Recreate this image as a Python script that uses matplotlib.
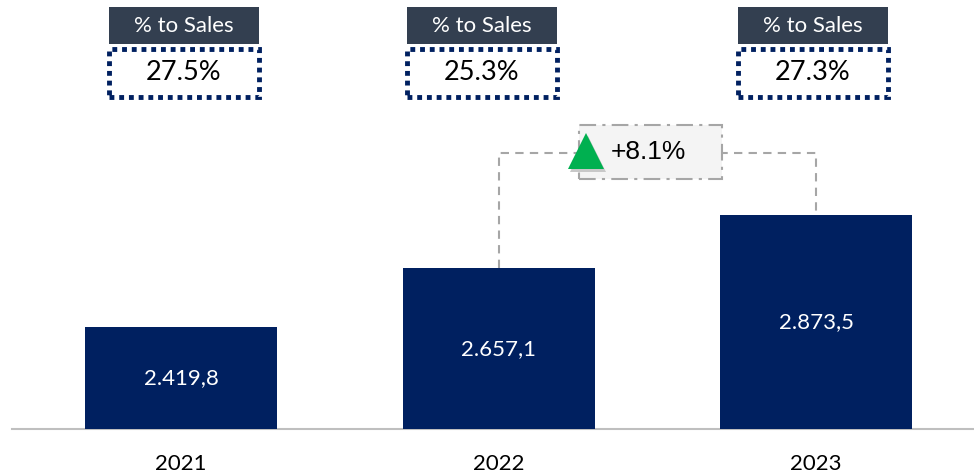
# -*- coding: UTF-8 -*-
# Gross profit bars 2021-2023 with "% to Sales" boxes and growth callout
import numpy as np
import matplotlib.pyplot as plt
from matplotlib.patches import Rectangle
import matplotlib.transforms as mtransforms

# data
years = ['2021', '2022', '2023']
values = [2419.8, 2657.1, 2873.5]
value_labels = ['2.419,8', '2.657,1', '2.873,5']
pct_to_sales = ['27.5%', '25.3%', '27.3%']
growth_label = '+8.1%'

# colours
NAVY = '#002060'
HEADER = '#333F50'
GRAY = '#A6A6A6'
GREEN = '#00B050'

plt.rcParams['font.family'] = ['Lato', 'DejaVu Sans']

W, H = 974, 474
fig = plt.figure(figsize=(W / 100, H / 100), dpi=100)
fig.patch.set_facecolor('white')

# axes: left edge at 12px, baseline at 429px from top, reaching the top
ax_h = 429
ax = fig.add_axes([12 / W, (H - ax_h) / H, (W - 12) / W, ax_h / H])
ax.set_facecolor('white')

x = np.arange(len(years))
unit_px = 317.5          # pixels per category step
bar_w = 192 / unit_px
ax.bar(x, values, width=bar_w, color=NAVY, zorder=3)

ax.set_xlim(-169 / unit_px, (W - 12 - 169) / unit_px)
ymin = 2007
ax.set_ylim(ymin, ymin + ax_h / 0.2469)

for s in ['top', 'right', 'left']:
    ax.spines[s].set_visible(False)
ax.spines['bottom'].set_color('#BFBFBF')
ax.spines['bottom'].set_linewidth(1.5)
ax.set_yticks([])
ax.set_xticks(x)
ax.set_xticklabels(years, fontsize=16, color='black')
ax.tick_params(axis='x', length=0, pad=18)

# value labels centred in the bars
for xi, v, lab in zip(x, values, value_labels):
    ax.text(xi, (ymin + v) / 2, lab, ha='center', va='center',
            color='white', fontsize=16, zorder=4)

# "% to Sales" boxes, x in data, y in axes fraction
trans = mtransforms.blended_transform_factory(ax.transData, ax.transAxes)
box_w = 150 / unit_px
box_dx = [3, -17, -3]    # small horizontal offsets (px)


def fy(px_from_top):
    return (ax_h - px_from_top) / ax_h


for xi, dx, pct in zip(x, box_dx, pct_to_sales):
    cx = xi + dx / unit_px
    ax.add_patch(Rectangle((cx - box_w / 2, fy(44)), box_w, fy(7) - fy(44),
                           transform=trans, facecolor=HEADER,
                           edgecolor='none', clip_on=False, zorder=5))
    ax.text(cx, fy(26), '% to Sales', transform=trans, ha='center',
            va='center', color='white', fontsize=16, zorder=6)
    ax.add_patch(Rectangle((cx - box_w / 2, fy(97)), box_w, fy(49) - fy(97),
                           transform=trans, facecolor='white',
                           edgecolor=NAVY, linewidth=3.5,
                           linestyle=(0, (1, 1)), clip_on=False, zorder=5))
    ax.text(cx, fy(72), pct, transform=trans, ha='center', va='center',
            color='black', fontsize=19.5, zorder=6)

# growth bracket between 2022 and 2023
y_br = fy(153)
y_br_data = ax.transData.inverted().transform(
    ax.transAxes.transform((0, y_br)))[1]
ax.plot([x[1], x[1], x[2], x[2]], [values[1], y_br_data, y_br_data, values[2]],
        color=GRAY, linestyle=(0, (4, 3)), linewidth=1.5, zorder=2)

cb_cx = (650 - 181) / unit_px
cb_w = 143 / unit_px
ax.add_patch(Rectangle((cb_cx - cb_w / 2, fy(179)), cb_w, fy(125) - fy(179),
                       transform=trans, facecolor='#F4F4F4', edgecolor=GRAY,
                       linewidth=1.5, linestyle=(0, (8, 3, 1.5, 3)),
                       zorder=4))
tri_x = (586 - 181) / unit_px
ax.plot([tri_x + 2 / unit_px], [fy(154)], marker='^', markersize=26,
        color='#C8C8C8', markeredgewidth=0, transform=trans, zorder=5,
        clip_on=False)
ax.plot([tri_x], [fy(151)], marker='^', markersize=26, color=GREEN,
        markeredgewidth=0, transform=trans, zorder=6, clip_on=False)
ax.text((611 - 181) / unit_px, fy(152), growth_label, transform=trans,
        ha='left', va='center', fontsize=19, color='black',
        family=['Liberation Sans', 'DejaVu Sans'], zorder=6)

fig.savefig('out.png', dpi=100, facecolor='white')
